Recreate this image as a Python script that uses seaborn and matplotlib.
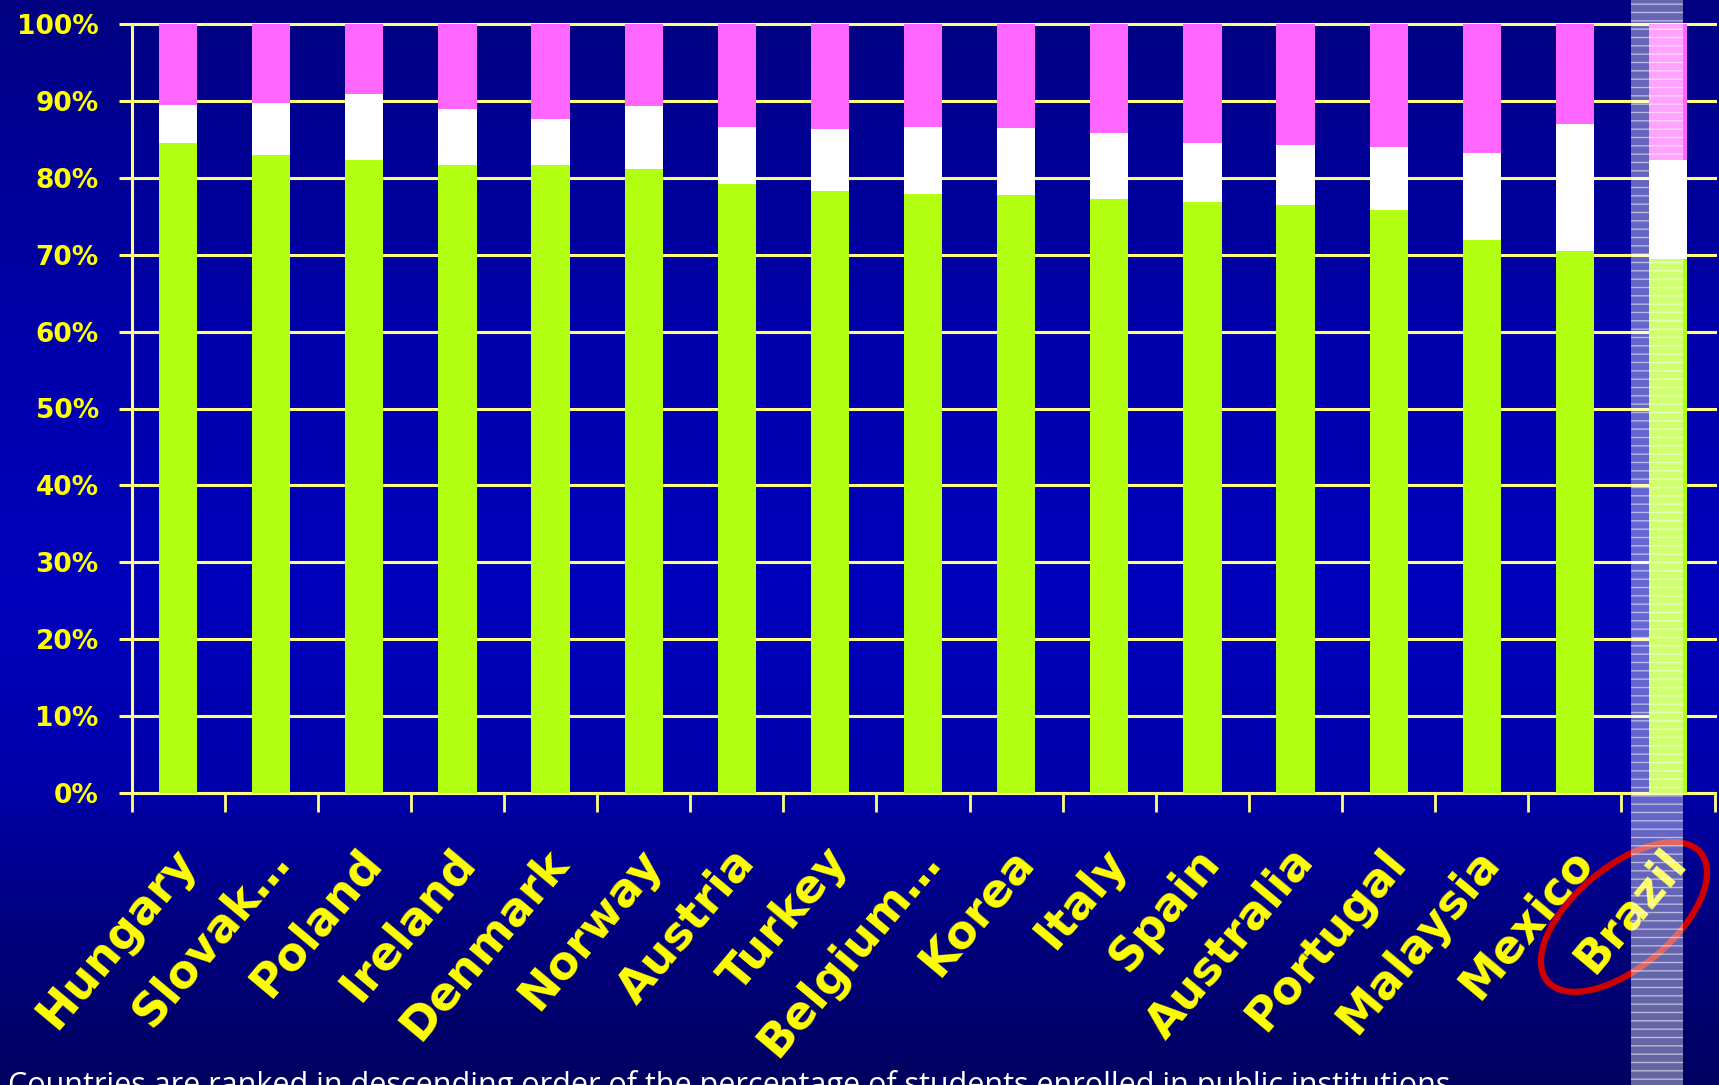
import numpy as np
import pandas as pd
import seaborn as sns
import matplotlib as mpl
mpl.use('Agg')
import matplotlib.pyplot as plt
from matplotlib.patches import Rectangle, Ellipse
from matplotlib.transforms import ScaledTranslation

# share of students per country (%), stacked to 100
countries = ["Hungary", "Slovak\u2026", "Poland", "Ireland", "Denmark", "Norway", "Austria",
             "Turkey", "Belgium\u2026", "Korea", "Italy", "Spain", "Australia", "Portugal",
             "Malaysia", "Mexico", "Brazil"]
green = [84.5, 83.0, 82.3, 81.6, 81.6, 81.1, 79.2, 78.3, 77.9, 77.8, 77.2, 76.9, 76.4, 75.8, 71.9, 70.5, 69.4]
white = [5.0, 6.7, 8.6, 7.3, 6.1, 8.2, 7.4, 8.0, 8.7, 8.7, 8.6, 7.6, 7.9, 8.2, 11.3, 16.5, 12.9]
total = [100] * len(countries)
yticks = list(range(0, 101, 10))
ytick_labels = ["%d%%" % v for v in yticks]
caption = ("Countries are ranked in descending order of the percentage of "
           "students enrolled in public institutions")

YEL = '#FFFF00'
GRID = '#FFFF80'
C_GREEN = '#B2FF12'
C_WHITE = '#FFFFFF'
C_MAG = '#FF66FF'

W, H = 1719, 1085
fig = plt.figure(figsize=(W / 100, H / 100), dpi=100)

#==== background gradient
bg = fig.add_axes([0, 0, 1, 1], zorder=-10)
yy = np.linspace(0, 1, H)
stops = [0, 0.1, 0.3, 0.55, 0.72, 0.85, 1.0]
blues = [0x80, 0x90, 0xAA, 0xBC, 0xAC, 0x80, 0x60]
b = np.interp(yy, stops, blues) / 255.
grad = np.zeros((H, 1, 3))
grad[:, 0, 2] = b
bg.imshow(grad, aspect='auto', extent=[0, 1, 1, 0])
bg.axis('off')

#==== main axes
x0, x1, ytop, ybot = 131.5, 1714.6, 24, 793
ax = fig.add_axes([x0 / W, (H - ybot) / H, (x1 - x0) / W, (ybot - ytop) / H])
ax.set_facecolor('none')

df = pd.DataFrame({'country': countries, 'green': green, 'white': white, 'total': total})
df['green_white'] = df['green'] + df['white']

sns.barplot(data=df, x='country', y='total', color=C_MAG, width=0.41, saturation=1, linewidth=0, ax=ax, zorder=3)
sns.barplot(data=df, x='country', y='green_white', color=C_WHITE, width=0.41, saturation=1, linewidth=0, ax=ax, zorder=3)
sns.barplot(data=df, x='country', y='green', color=C_GREEN, width=0.41, saturation=1, linewidth=0, ax=ax, zorder=3)

ax.set_xlim(-0.5, len(countries) - 0.5)
ax.set_ylim(0, 100)
ax.set_xlabel('')
ax.set_ylabel('')

ax.set_yticks(yticks)
ax.set_yticklabels(ytick_labels, color=YEL, fontsize=19, fontweight='bold')
ax.tick_params(axis='y', length=9.5, width=2.2, color=GRID, pad=14)
ax.yaxis.grid(True, color=GRID, lw=2.2, zorder=0)
ax.set_axisbelow(True)
for gl in ax.get_ygridlines():
    gl.set_clip_on(False)

ax.set_xticks(np.arange(-0.5, len(countries), 1), minor=True)
ax.tick_params(axis='x', which='minor', length=14, width=2, color=GRID)
ax.tick_params(axis='x', which='major', length=0, pad=44)
ax.set_xticks(range(len(countries)))
ax.set_xticklabels(countries, rotation=50, ha='right', va='center', rotation_mode='anchor',
                   color=YEL, fontsize=33, fontweight='bold')
off = ScaledTranslation(0.10, 0, fig.dpi_scale_trans)
for lab in ax.get_xticklabels():
    lab.set_transform(lab.get_transform() + off)

for s in ['top', 'right']:
    ax.spines[s].set_visible(False)
for s in ['left', 'bottom']:
    ax.spines[s].set_color(GRID)
    ax.spines[s].set_linewidth(2.2)

#==== overlay: highlight band, red ring, caption
ov = fig.add_axes([0, 0, 1, 1], zorder=5)
ov.set_xlim(0, W)
ov.set_ylim(H, 0)
ov.axis('off')
ov.patch.set_alpha(0)
ov.add_patch(Ellipse((1624, 917), 200, 100, angle=-40, fill=False, edgecolor='#D00000', lw=4.5, zorder=1))
mpl.rcParams['hatch.linewidth'] = 1.0
ov.add_patch(Rectangle((1631, 0), 52, H, facecolor=(1, 1, 1, 0.40), edgecolor=(1, 1, 1, 0.55),
                       hatch='--', lw=0, zorder=2))
ov.text(8, 1094, caption, color='white', fontsize=22, va='baseline', ha='left', family='Open Sans')

plt.savefig('out.png', dpi=100)
